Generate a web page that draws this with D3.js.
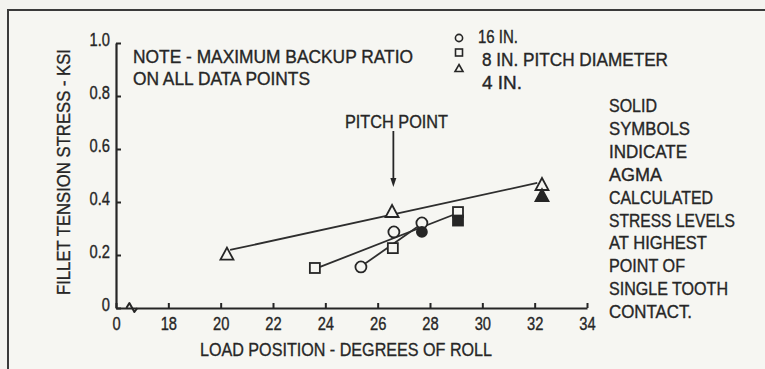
<!DOCTYPE html>
<html>
<head>
<meta charset="utf-8">
<script src="https://cdn.jsdelivr.net/npm/d3@7/dist/d3.min.js"></script>
<style>
  html, body { margin: 0; padding: 0; background: #f3f3ef; }
  svg { display: block; }
  text { font-family: "Liberation Sans", Arial, sans-serif; fill: #262626;
         stroke: #262626; stroke-width: 0.35px; }
</style>
</head>
<body>
<svg id="chart" width="765" height="369"></svg>
<script>
// Load position (degrees of roll) vs fillet tension stress (ksi)
const xTicks = [16, 18, 20, 22, 24, 26, 28, 30, 32, 34];
const xTickLabels = ["0", "18", "20", "22", "24", "26", "28", "30", "32", "34"];
const yTicks = [0, 0.2, 0.4, 0.6, 0.8, 1.0];
const yTickLabels = ["0", "0.2", "0.4", "0.6", "0.8", "1.0"];

// 16 in. pitch diameter (circles)
const circleOpen = [{x: 25.36, y: 0.155}, {x: 26.62, y: 0.287}, {x: 27.69, y: 0.321}];
const circleSolid = [{x: 27.69, y: 0.287}];
const circleFit = [{x: 25.44, y: 0.162}, {x: 27.62, y: 0.313}];

// 8 in. pitch diameter (squares)
const squareOpen = [{x: 23.6, y: 0.151}, {x: 26.58, y: 0.226}, {x: 29.07, y: 0.362}];
const squareSolid = [{x: 29.07, y: 0.33}];
const squareFit = [{x: 23.8, y: 0.155}, {x: 28.9, y: 0.352}];

// 4 in. pitch diameter (triangles)
const triOpen = [{x: 20.24, y: 0.205}, {x: 26.55, y: 0.366}, {x: 32.28, y: 0.468}];
const triSolid = [{x: 32.28, y: 0.426}];
const triFit = [{x: 20.36, y: 0.219}, {x: 32.1, y: 0.472}];

const pitchPoint = 26.6;

const noteLines = ["NOTE - MAXIMUM BACKUP RATIO", "ON ALL DATA POINTS"];
const legendLabels = ["16 IN.", "8 IN. PITCH DIAMETER", "4 IN."];
const sideNote = ["SOLID", "SYMBOLS", "INDICATE", "AGMA", "CALCULATED",
  "STRESS LEVELS", "AT HIGHEST", "POINT OF", "SINGLE TOOTH", "CONTACT."];

const ink = "#262626";
const paper = "#f6f6f2";
const svg = d3.select("#chart");

// frame
svg.append("rect").attr("x", 8).attr("y", 10).attr("width", 770).attr("height", 370)
  .attr("fill", paper);
svg.append("path").attr("d", "M8,369 V10 H765")
  .attr("fill", "none").attr("stroke", "#3a3a3a").attr("stroke-width", 2);

const x = d3.scaleLinear().domain([16, 34]).range([116, 587]);
const y = d3.scaleLinear().domain([0, 1]).range([308, 43]);

// axes with inward ticks
const xAxis = d3.axisBottom(x).tickValues(xTicks)
  .tickFormat((d, i) => xTickLabels[i]).tickSizeInner(-5).tickSizeOuter(0);
const yAxis = d3.axisLeft(y).tickValues(yTicks)
  .tickFormat((d, i) => yTickLabels[i]).tickSizeInner(-5).tickSizeOuter(0).tickPadding(6);

const gx = svg.append("g").attr("transform", `translate(0,${y(0)})`).call(xAxis);
const gy = svg.append("g").attr("transform", `translate(${x(16)},0)`).call(yAxis);

[gx, gy].forEach(g => {
  g.select(".domain").attr("stroke", ink).attr("stroke-width", 2.2);
  g.selectAll(".tick line").attr("stroke", ink).attr("stroke-width", 2);
  g.selectAll(".tick text").attr("fill", ink).attr("font-size", 17.5)
    .attr("font-family", "'Liberation Sans', Arial, sans-serif");
});
gx.selectAll(".tick text").attr("y", 22).attr("dy", 0);
gy.selectAll(".tick text").attr("dy", 2);

// condensed look for tick labels
svg.selectAll(".tick text").each(function () {
  const w = this.getComputedTextLength();
  d3.select(this).attr("textLength", w * 0.84).attr("lengthAdjust", "spacingAndGlyphs");
});

// axis break between 0 and 18
const bx = x(16.55), by = y(0);
svg.append("path")
  .attr("d", `M${bx - 4},${by} L${bx - 1},${by - 5} L${bx + 4},${by + 4} L${bx + 7},${by}`)
  .attr("fill", "none").attr("stroke", ink).attr("stroke-width", 2).attr("stroke-linejoin", "round");

// axis titles
svg.append("text").attr("x", 200).attr("y", 356).attr("font-size", 19)
  .attr("textLength", 292).attr("lengthAdjust", "spacingAndGlyphs")
  .text("LOAD POSITION - DEGREES OF ROLL");
svg.append("text").attr("transform", "translate(70,172) rotate(-90)")
  .attr("text-anchor", "middle").attr("font-size", 19)
  .attr("textLength", 246).attr("lengthAdjust", "spacingAndGlyphs")
  .text("FILLET TENSION STRESS - KSI");

// fitted lines
const line = d3.line().x(d => x(d.x)).y(d => y(d.y));
[triFit, squareFit, circleFit].forEach(f => {
  svg.append("path").attr("d", line(f)).attr("fill", "none")
    .attr("stroke", "#2e2e2e").attr("stroke-width", 1.8);
});

// marker shapes
function triPath(cx, cy, w, h) {
  return `M${cx},${cy - h / 2} L${cx + w / 2},${cy + h / 2} L${cx - w / 2},${cy + h / 2} Z`;
}
function drawCircles(data, solid, r) {
  svg.selectAll(null).data(data).enter().append("circle")
    .attr("cx", d => x(d.x)).attr("cy", d => y(d.y)).attr("r", r)
    .attr("fill", solid ? ink : paper).attr("stroke", ink).attr("stroke-width", 1.8);
}
function drawSquares(data, solid, s) {
  svg.selectAll(null).data(data).enter().append("rect")
    .attr("x", d => x(d.x) - s / 2).attr("y", d => y(d.y) - s / 2)
    .attr("width", s).attr("height", s)
    .attr("fill", solid ? ink : paper).attr("stroke", ink).attr("stroke-width", 1.8);
}
function drawTris(data, solid, w, h) {
  svg.selectAll(null).data(data).enter().append("path")
    .attr("d", d => triPath(x(d.x), y(d.y), w, h))
    .attr("fill", solid ? ink : paper).attr("stroke", ink).attr("stroke-width", 1.8)
    .attr("stroke-linejoin", "miter");
}

drawCircles(circleOpen, false, 5.5);
drawCircles(circleSolid, true, 5);
drawSquares(squareOpen, false, 10);
drawSquares(squareSolid, true, 10);
drawTris(triOpen, false, 13, 12);
drawTris(triSolid, true, 13, 12);

// pitch point callout
const px = x(pitchPoint);
svg.append("text").attr("x", 345).attr("y", 128).attr("font-size", 17.5)
  .attr("textLength", 103).attr("lengthAdjust", "spacingAndGlyphs").text("PITCH POINT");
svg.append("line").attr("x1", px).attr("x2", px).attr("y1", 131).attr("y2", 180)
  .attr("stroke", ink).attr("stroke-width", 1.8);
svg.append("path").attr("d", `M${px - 3},${178} L${px + 3},${178} L${px},${187} Z`).attr("fill", ink);

// note
const noteWidths = [280, 177];
noteLines.forEach((t, i) => {
  svg.append("text").attr("x", 133).attr("y", 63 + i * 22).attr("font-size", 17.5)
    .attr("textLength", noteWidths[i]).attr("lengthAdjust", "spacingAndGlyphs").text(t);
});

// legend
const lx = 459;
svg.append("circle").attr("cx", lx).attr("cy", 38).attr("r", 3.6)
  .attr("fill", "none").attr("stroke", ink).attr("stroke-width", 1.6);
svg.append("rect").attr("x", lx - 3.5).attr("y", 49).attr("width", 7).attr("height", 7)
  .attr("fill", "none").attr("stroke", ink).attr("stroke-width", 1.6);
svg.append("path").attr("d", triPath(lx, 68, 8, 7))
  .attr("fill", "none").attr("stroke", ink).attr("stroke-width", 1.6);
const legendX = [478, 482, 482], legendY = [43, 66, 89], legendW = [40, 186, 40];
legendLabels.forEach((t, i) => {
  svg.append("text").attr("x", legendX[i]).attr("y", legendY[i]).attr("font-size", 17.5)
    .attr("textLength", legendW[i]).attr("lengthAdjust", "spacingAndGlyphs").text(t);
});

// side note on solid symbols
const sideW = [48, 81, 78, 53, 104, 126, 98, 76, 119, 83];
sideNote.forEach((t, i) => {
  svg.append("text").attr("x", 609).attr("y", 112 + i * 22.9).attr("font-size", 17.5)
    .attr("textLength", sideW[i]).attr("lengthAdjust", "spacingAndGlyphs").text(t);
});
</script>
</body>
</html>
